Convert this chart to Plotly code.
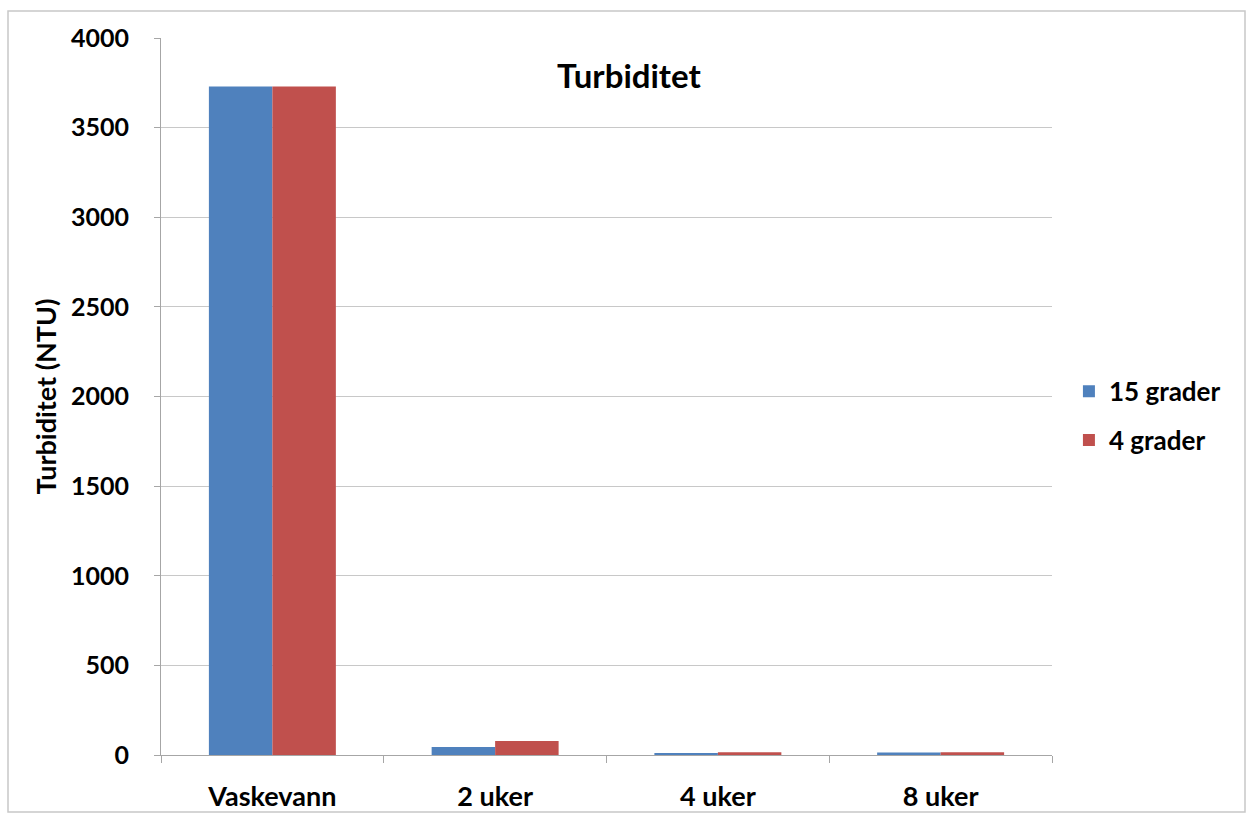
import plotly.graph_objects as go

# Turbiditet per prøvetidspunkt og lagringstemperatur
categories = ["Vaskevann", "2 uker", "4 uker", "8 uker"]
series_names = ["15 grader", "4 grader"]
values_15 = [3730, 45, 8, 14]
values_4 = [3730, 78, 15, 15]
colors = ["#4F81BD", "#C0504D"]

y_ticks = [0, 500, 1000, 1500, 2000, 2500, 3000, 3500, 4000]

FONT = "Lato"

fig = go.Figure()
for name, vals, col in zip(series_names, [values_15, values_4], colors):
    fig.add_trace(go.Bar(
        x=categories, y=vals, name=name, legendgroup=name,
        marker=dict(color=col, line=dict(width=0)),
    ))

fig.update_layout(
    width=1249, height=814,
    margin=dict(l=161, r=197, t=38, b=59),
    paper_bgcolor="white", plot_bgcolor="white",
    barmode="group", bargap=0.43, bargroupgap=0,
    font=dict(family=FONT, color="black"),
    showlegend=True,
    legend=dict(
        x=1.019, y=0.473, xanchor="left", yanchor="middle",
        font=dict(family=FONT, size=26, color="black", weight="bold"),
        traceorder="grouped", tracegroupgap=12,
        itemsizing="constant", bgcolor="rgba(0,0,0,0)",
    ),
    annotations=[dict(
        text="<b>Turbiditet</b>", x=0.525, y=0.948, xref="paper", yref="paper",
        xanchor="center", yanchor="middle", showarrow=False,
        font=dict(family=FONT, size=33, color="black"),
    )],
    shapes=[dict(
        type="rect", xref="paper", yref="paper",
        x0=-153 / 891, x1=1245 / 891 - 161 / 891,
        y0=(755 - 812) / 717, y1=(755 - 11) / 717,
        line=dict(color="#C8C8C8", width=1.5), fillcolor="rgba(0,0,0,0)", layer="below",
    )],
)

fig.update_xaxes(
    type="category", showgrid=False, automargin=False,
    showline=True, linecolor="#A6A6A6", linewidth=1,
    ticks="outside", tickson="boundaries", ticklen=7, tickcolor="#A6A6A6",
    tickfont=dict(family=FONT, size=27, color="black", weight="bold"),
    ticklabelstandoff=18,
)

fig.update_yaxes(
    range=[0, 4000], tickvals=y_ticks, automargin=False,
    showgrid=True, gridcolor="#C8C8C8", gridwidth=1,
    showline=True, linecolor="#A6A6A6", linewidth=1,
    ticks="outside", ticklen=6, tickcolor="#A6A6A6",
    tickfont=dict(family=FONT, size=25, color="black", weight="bold"),
    ticklabelstandoff=20,
    zeroline=False,
    title=dict(text="<b>Turbiditet (NTU)</b>", standoff=6,
               font=dict(family=FONT, size=27, color="black")),
)

fig.write_html("out.html")
